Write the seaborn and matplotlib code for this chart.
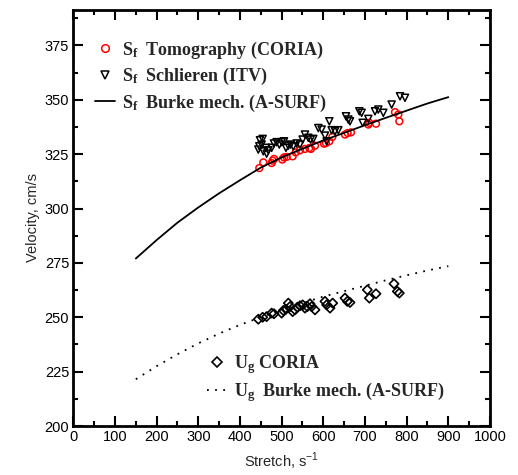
import numpy as np
import pandas as pd
import matplotlib
matplotlib.use("Agg")
import matplotlib.pyplot as plt
import seaborn as sns
from matplotlib.ticker import MultipleLocator
from matplotlib.lines import Line2D

# ---- data ----
tomo_x = [446.4, 456, 476, 478.4, 481.6, 501.6, 505.6, 512, 526.4, 533.6, 544, 556, 566.4, 570.4,
          580, 601.6, 606.4, 614.4, 621.6, 652, 658.4, 666.4, 708, 710.4, 726.4, 772, 780, 782.4]
tomo_y = [318.6, 321.2, 320.9, 322.0, 322.8, 322.5, 323.5, 323.7, 324.0, 325.8, 326.8, 327.4, 327.8, 327.4,
          328.9, 329.8, 330.1, 330.9, 332.9, 334.0, 334.7, 335.0, 338.6, 339.4, 339.0, 344.3, 343.2, 340.1]

schl_x = [448, 454.4, 452, 446.4, 444, 456, 464, 468, 462.4, 476, 481.6, 488, 494.4, 500, 505.6, 510.4,
          516, 521.6, 528, 536, 544, 550.4, 556, 564, 569.6, 576, 588, 596, 604, 608, 614.4, 620, 628,
          636, 654.4, 660, 664, 686.4, 692, 694.4, 708, 724, 732, 744, 764, 784, 796]
schl_y = [331.4, 332.0, 329.4, 328.6, 327.1, 326.3, 325.2, 326.8, 327.9, 327.9, 329.9, 330.5, 329.4, 330.5,
          330.9, 327.9, 328.9, 329.4, 328.6, 329.9, 329.4, 331.7, 334.0, 332.5, 331.7, 332.0, 337.0, 336.3,
          333.5, 330.9, 340.1, 336.0, 335.5, 336.0, 342.4, 340.9, 340.1, 344.7, 344.0, 339.4, 341.2, 344.7,
          345.5, 344.0, 347.8, 351.6, 350.9]

ug_x = [444, 454.4, 464, 476, 481.6, 500, 504, 510.4, 516, 520, 526.4, 532, 537.6, 544, 550.4, 556, 561.6,
        568, 572, 580, 604, 608, 616, 622.4, 652, 657.6, 664, 705.6, 710.4, 726.4, 769.6, 777.6, 782.4]
ug_y = [249.1, 250.0, 250.3, 251.9, 251.6, 251.9, 253.1, 253.7, 256.5, 254.9, 252.6, 253.4, 254.6, 255.3,
        255.7, 254.2, 254.9, 256.2, 254.9, 253.4, 257.3, 255.7, 254.2, 256.5, 258.8, 257.3, 256.8, 262.6,
        258.8, 260.8, 265.4, 261.9, 261.1]

burke_x = [150, 200, 250, 300, 350, 400, 450, 500, 550, 600, 650, 700, 750, 800, 850, 900]
burke_sf = [277, 285.5, 293.5, 300.5, 307, 313, 318.8, 323.5, 327.5, 331.3, 334.8, 338.3, 341.7, 345, 348.3, 351.2]
burke_ug = [221.5, 227.5, 233, 238, 242.5, 246.5, 250, 253.5, 256.5, 259.5, 262, 264.5, 267, 269.3, 271.5, 273.5]

sns.set_theme(style="ticks")
plt.rcParams['font.family'] = ['Liberation Sans', 'DejaVu Sans']
plt.rcParams['mathtext.fontset'] = 'custom'
plt.rcParams['mathtext.rm'] = 'Liberation Serif'
plt.rcParams['mathtext.bf'] = 'Liberation Serif:bold'

fig = plt.figure(figsize=(5.18, 4.75), dpi=100)
ax = fig.add_axes([73.3/518, 1-426/475, (490-73.3)/518, (426-9.5)/475])

sns.lineplot(x=burke_x, y=burke_sf, ax=ax, color='black', lw=1.3, label='_sf_line')
sns.lineplot(x=burke_x, y=burke_ug, ax=ax, color='black', lw=1.3, linestyle=(0, (1, 3.5)), label='_ug_line')
sns.scatterplot(x=tomo_x, y=tomo_y, ax=ax, marker='o', s=24, facecolors='none', edgecolor='red', linewidth=1.1)
sns.scatterplot(x=schl_x, y=schl_y, ax=ax, marker='v', s=26, facecolors='none', edgecolor='black', linewidth=1.1)
sns.scatterplot(x=ug_x, y=ug_y, ax=ax, marker='D', s=22, facecolors='none', edgecolor='black', linewidth=1.2)

ax.set_xlim(0, 1000)
ax.set_ylim(200, 391.5)
ax.xaxis.set_major_locator(MultipleLocator(100))
ax.xaxis.set_minor_locator(MultipleLocator(50))
ax.yaxis.set_major_locator(MultipleLocator(25))
ax.yaxis.set_minor_locator(MultipleLocator(12.5))
ax.tick_params(which='both', direction='in', top=True, right=True, width=1.5, colors='black',
               labelsize=10.5, pad=3)
ax.tick_params(which='major', length=7)
ax.tick_params(which='minor', length=3.5)
for s in ax.spines.values():
    s.set_linewidth(2)
    s.set_color('black')

ax.set_xlabel('Stretch, s$^{\\mathregular{-1}}$', fontsize=10.5, labelpad=5)
ax.set_ylabel('Velocity, cm/s', fontsize=10.5, labelpad=3)

leg_font = {'family': 'Liberation Serif', 'weight': 'bold', 'size': 13}
h1 = [Line2D([], [], marker='o', ls='none', mfc='none', mec='red', mew=1.1, ms=5.5),
      Line2D([], [], marker='v', ls='none', mfc='none', mec='black', mew=1.1, ms=5.5),
      Line2D([], [], color='black', lw=1.3)]
l1 = [r'$\mathbf{S_f}$  Tomography (CORIA)', r'$\mathbf{S_f}$  Schlieren (ITV)',
      r'$\mathbf{S_f}$  Burke mech. (A-SURF)']
leg1 = ax.legend(h1, l1, loc='upper left', bbox_to_anchor=(0.035, 0.945), frameon=False,
                 prop=leg_font, handlelength=1.1, handletextpad=0.4, labelspacing=0.3,
                 borderaxespad=0)
ax.add_artist(leg1)
h2 = [Line2D([], [], marker='D', ls='none', mfc='none', mec='black', mew=1.2, ms=4.8),
      Line2D([], [], color='black', lw=1.3, linestyle=(0, (1, 3.5)))]
l2 = [r'$\mathbf{U_g}$ CORIA', r'$\mathbf{U_g}$  Burke mech. (A-SURF)']
ax.legend(h2, l2, loc='upper left', bbox_to_anchor=(0.304, 0.192), frameon=False,
          prop=leg_font, handlelength=1.1, handletextpad=0.4, labelspacing=0.22, borderaxespad=0)

fig.savefig('out.png', dpi=100)
